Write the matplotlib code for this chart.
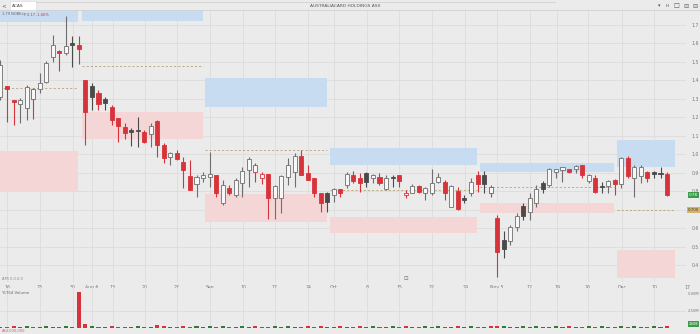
import matplotlib
matplotlib.use("Agg")
import matplotlib.pyplot as plt
import matplotlib.transforms as mtransforms
from matplotlib.patches import Rectangle

# daily OHLC, A$
opens = [1.311, 1.370, 1.295, 1.273, 1.251, 1.300, 1.354, 1.392, 1.527, 1.559,
         1.549, 1.603, 1.592, 1.403, 1.370, 1.332, 1.300, 1.257, 1.197, 1.149,
         1.132, 1.132, 1.122, 1.111, 1.181, 1.051, 0.986, 1.008, 0.959, 0.884,
         0.841, 0.873, 0.878, 0.889, 0.738, 0.819, 0.781, 0.846, 0.916, 0.905,
         0.873, 0.895, 0.765, 0.765, 0.878, 0.905, 0.992, 0.900, 0.873, 0.792,
         0.792, 0.781, 0.814, 0.835, 0.889, 0.873, 0.900, 0.873, 0.878, 0.814,
         0.876, 0.889, 0.781, 0.792, 0.830, 0.792, 0.792, 0.851, 0.851, 0.716,
         0.803, 0.765, 0.792, 0.889, 0.889, 0.792, 0.657, 0.538, 0.532, 0.608,
         0.722, 0.689, 0.738, 0.846, 0.835, 0.905, 0.916, 0.922, 0.922, 0.943,
         0.857, 0.873, 0.827, 0.830, 0.862, 0.841, 0.981, 0.873, 0.884, 0.905,
         0.903, 0.900, 0.895]
highs = [1.511, 1.370, 1.295, 1.305, 1.376, 1.359, 1.441, 1.505, 1.646, 1.565,
         1.749, 1.641, 1.641, 1.403, 1.386, 1.349, 1.311, 1.268, 1.197, 1.170,
         1.143, 1.203, 1.132, 1.170, 1.186, 1.062, 1.014, 1.024, 0.986, 0.970,
         0.889, 0.905, 1.014, 0.889, 0.862, 0.835, 0.873, 0.932, 0.986, 0.954,
         0.905, 0.895, 0.835, 0.889, 0.981, 1.008, 1.024, 0.943, 0.873, 0.792,
         0.797, 0.819, 0.814, 0.905, 0.911, 0.900, 0.905, 0.895, 0.900, 0.889,
         0.889, 0.889, 0.808, 0.841, 0.835, 0.824, 0.922, 0.900, 0.862, 0.835,
         0.824, 0.781, 0.873, 0.911, 0.911, 0.835, 0.673, 0.586, 0.619, 0.684,
         0.738, 0.792, 0.835, 0.857, 0.927, 0.922, 0.932, 0.922, 0.943, 0.943,
         0.895, 0.889, 0.851, 0.862, 0.868, 0.986, 0.992, 0.943, 0.943, 0.911,
         0.911, 0.932, 0.905]
lows = [1.295, 1.176, 1.159, 1.170, 1.186, 1.192, 1.332, 1.386, 1.500, 1.451,
        1.540, 1.473, 1.489, 1.051, 1.241, 1.241, 1.241, 1.159, 1.068, 1.084,
        1.046, 1.041, 1.062, 1.041, 0.986, 0.954, 0.943, 0.970, 0.819, 0.808,
        0.770, 0.851, 0.824, 0.770, 0.727, 0.781, 0.770, 0.770, 0.824, 0.851,
        0.841, 0.651, 0.651, 0.684, 0.835, 0.824, 0.889, 0.862, 0.770, 0.689,
        0.689, 0.743, 0.770, 0.819, 0.846, 0.797, 0.824, 0.846, 0.835, 0.808,
        0.824, 0.824, 0.765, 0.792, 0.792, 0.754, 0.781, 0.846, 0.754, 0.716,
        0.700, 0.738, 0.776, 0.797, 0.792, 0.770, 0.338, 0.441, 0.511, 0.586,
        0.646, 0.646, 0.716, 0.792, 0.824, 0.873, 0.851, 0.900, 0.900, 0.873,
        0.846, 0.792, 0.792, 0.792, 0.781, 0.819, 0.873, 0.770, 0.846, 0.851,
        0.873, 0.873, 0.776]
closes = [1.484, 1.354, 1.284, 1.295, 1.365, 1.354, 1.386, 1.495, 1.592, 1.549,
          1.586, 1.592, 1.570, 1.230, 1.311, 1.273, 1.278, 1.186, 1.154, 1.116,
          1.122, 1.127, 1.068, 1.154, 1.051, 0.981, 1.008, 0.976, 0.916, 0.808,
          0.878, 0.889, 0.895, 0.792, 0.835, 0.792, 0.862, 0.911, 0.976, 0.943,
          0.895, 0.765, 0.830, 0.884, 0.943, 0.992, 0.889, 0.862, 0.792, 0.738,
          0.743, 0.814, 0.792, 0.895, 0.857, 0.846, 0.851, 0.889, 0.846, 0.873,
          0.873, 0.857, 0.792, 0.830, 0.797, 0.819, 0.846, 0.878, 0.792, 0.830,
          0.705, 0.754, 0.851, 0.841, 0.843, 0.824, 0.473, 0.489, 0.608, 0.668,
          0.670, 0.765, 0.814, 0.814, 0.922, 0.922, 0.932, 0.905, 0.938, 0.889,
          0.889, 0.797, 0.824, 0.857, 0.841, 0.981, 0.884, 0.932, 0.932, 0.873,
          0.897, 0.897, 0.781]
# volume, millions of shares
volumes = [0.22, 0.20, 0.23, 0.19, 0.24, 0.21, 0.22, 0.25, 0.21, 0.20,
           0.23, 0.22, 5.30, 0.60, 0.24, 0.22, 0.20, 0.23, 0.21, 0.22,
           0.19, 0.24, 0.22, 0.21, 0.38, 0.23, 0.20, 0.22, 0.24, 0.21,
           0.23, 0.22, 0.35, 0.21, 0.23, 0.20, 0.22, 0.24, 0.21, 0.23,
           0.22, 0.20, 0.24, 0.21, 0.23, 0.22, 0.20, 0.23, 0.21, 0.24,
           0.22, 0.20, 0.23, 0.21, 0.22, 0.24, 0.20, 0.23, 0.21, 0.22,
           0.24, 0.20, 0.23, 0.21, 0.22, 0.24, 0.20, 0.23, 0.21, 0.22,
           0.24, 0.20, 0.23, 0.21, 0.22, 0.24, 0.29, 0.23, 0.21, 0.22,
           0.24, 0.20, 0.23, 0.21, 0.22, 0.24, 0.20, 0.23, 0.21, 0.22,
           0.24, 0.20, 0.23, 0.21, 0.22, 0.24, 0.20, 0.23, 0.21, 0.22,
           0.24, 0.20, 0.26]

# date axis (trading-day index) and labels
date_pos = [1.0, 6.0, 11.1, 14.0, 17.2, 22.1, 27.0, 32.1, 37.1, 42.0, 47.1, 51.0,
            56.1, 61.0, 66.0, 71.1, 76.0, 81.0, 85.2, 89.9, 95.1, 100.0, 105.1]
date_labels = ["16", "23", "30", "Aug 6", "13", "20", "27", "Sep", "10", "17", "24",
               "Oct", "8", "15", "22", "29", "Nov 5", "12", "19", "26", "Dec", "10", "17"]
price_ticks = [1.7, 1.6, 1.5, 1.4, 1.3, 1.2, 1.1, 1.0, 0.9, 0.8, 0.7, 0.6, 0.5, 0.4]
volume_ticks = [2.5, 5.0]

# monthly supply / demand zones
zone_start = [-0.2, 12.5, 31.3, 50.4, 73.4, 94.3]
zone_end = [11.9, 31.0, 50.0, 72.9, 93.9, 103.2]
blue_top = [1.80, 1.80, 1.414, 1.035, 0.954, 1.078]
blue_bottom = [1.716, 1.722, 1.257, 0.943, 0.905, 0.932]
pink_top = [1.019, 1.230, 0.786, 0.662, 0.738, 0.484]
pink_bottom = [0.803, 1.084, 0.635, 0.576, 0.684, 0.332]
poc_level = [1.359, 1.478, 1.024, 0.808, 0.824, 0.700]

BG = "#ebebeb"
GRID = "#dcdcdc"
RED = "#d8333b"
DARK = "#4a4a4a"
HOLLOW = "#6e6e6e"
VGREEN = "#2f7d34"

W, H = 700, 334
fig = plt.figure(figsize=(7, 3.34), dpi=100)
fig.patch.set_facecolor(BG)


def frac(x0, y0, x1, y1):
    return [x0 / W, 1 - y1 / H, (x1 - x0) / W, (y1 - y0) / H]


ax = fig.add_axes(frac(0, 10, 686, 282))
axv = fig.add_axes(frac(0, 288, 686, 328), sharex=ax)
for a in (ax, axv):
    a.set_facecolor(BG)
    for s in a.spines.values():
        s.set_visible(False)
    a.tick_params(axis="x", length=0, labelbottom=False)

ax.set_xlim(-0.07, 104.9)
ax.set_ylim(0.3108, 1.781)
axv.set_ylim(0, 5.88)

# grid
for p in date_pos:
    ax.axvline(p, color=GRID, lw=0.6, zorder=0)
    axv.axvline(p, color=GRID, lw=0.6, zorder=0)
for p in price_ticks:
    ax.axhline(p, color=GRID, lw=0.6, zorder=0)
axv.axhline(volume_ticks[0], color=GRID, lw=0.6, zorder=0)

# zones
for k in range(len(zone_start)):
    x0, x1 = zone_start[k], zone_end[k]
    ax.add_patch(Rectangle((x0, blue_bottom[k]), x1 - x0, blue_top[k] - blue_bottom[k],
                           facecolor="#c7dcf1", edgecolor="none", zorder=1))
    ax.add_patch(Rectangle((x0, pink_bottom[k]), x1 - x0, pink_top[k] - pink_bottom[k],
                           facecolor="#f5d6d7", edgecolor="none", zorder=1))
    ax.plot([x0, x1], [poc_level[k]] * 2, color="#b3a272", lw=0.6,
            dashes=(2.5, 2.5), zorder=1.5)

# candles
bw = 0.62
for i in range(len(opens)):
    o, h, l, c = opens[i], highs[i], lows[i], closes[i]
    prev = closes[i - 1] if i > 0 else o
    up = c >= o
    if c < prev:
        edge = RED
        face = "#f7f7f7" if up else RED
    else:
        edge = HOLLOW if up else DARK
        face = "#f7f7f7" if up else DARK
    ax.vlines(i, l, h, color=edge, lw=0.8, zorder=2)
    ax.add_patch(Rectangle((i - bw / 2, min(o, c)), bw, max(abs(c - o), 0.004),
                           facecolor=face, edgecolor=edge, lw=0.6, zorder=3))
    axv.bar(i, volumes[i], width=bw, color=RED if c < prev else VGREEN, zorder=2)

# price axis on the right (0.7 sits under the level marker)
ax.yaxis.tick_right()
ax.set_yticks(price_ticks)
ax.set_yticklabels(["" if abs(p - poc_level[-1]) < 0.02 else f"{p:.1f}"
                    for p in price_ticks])
ax.tick_params(axis="y", length=0, pad=4, labelsize=3.3, labelcolor="#777777")
axv.yaxis.tick_right()
axv.set_yticks(volume_ticks)
axv.set_yticklabels([f"{v:.2f}M" for v in volume_ticks])
axv.tick_params(axis="y", length=0, pad=1.5, labelsize=2.7, labelcolor="#777777")

trans = mtransforms.blended_transform_factory(ax.transAxes, ax.transData)
ax.text(1.004, closes[-1], f"{closes[-1]:.2f}", transform=trans, fontsize=3.0,
        color="white", va="center", ha="left",
        bbox=dict(boxstyle="square,pad=0.25", fc="#3d9a4b", ec="none"))
ax.text(1.003, poc_level[-1], f"{poc_level[-1]:.3f}", transform=trans, fontsize=2.8,
        color="#3a3a3a", va="center", ha="left",
        bbox=dict(boxstyle="square,pad=0.2", fc="#d4b46a", ec="none"))
vtrans = mtransforms.blended_transform_factory(axv.transAxes, axv.transData)
axv.text(1.004, volumes[-1], f"{volumes[-1] * 1000:.0f}K", transform=vtrans,
         fontsize=2.8, color="white", va="bottom", ha="left",
         bbox=dict(boxstyle="square,pad=0.2", fc="#3d9a4b", ec="none"))

# date labels between the panels
for p, lab in zip(date_pos, date_labels):
    ax.text(p, -0.012, lab, transform=mtransforms.blended_transform_factory(
        ax.transData, ax.transAxes), fontsize=3.3, color="#777777",
        ha="center", va="top", clip_on=False)

# header and small labels
def ftext(x, y, s, **kw):
    fig.text(x / W, 1 - y / H, s, va="center", **kw)


fig.add_artist(plt.Line2D([0, 1], [1 - 10 / H] * 2, color="#d0d0d0", lw=0.6))
fig.add_artist(plt.Line2D([36 / W, 555 / W], [1 - 2 / H] * 2, color="#d0d0d0", lw=0.6))
fig.add_artist(Rectangle((10 / W, 1 - 10.5 / H), 26 / W, 9.5 / H, transform=fig.transFigure,
                         facecolor="white", edgecolor="#d8d8d8", lw=0.4))
ftext(4, 6, "<", fontsize=4, color="#555555", ha="center")
ftext(12, 6, "ACAS", fontsize=3.2, color="#444444", ha="left")
ftext(345, 6, "AUSTRALIACARD HOLDINGS ASX", fontsize=3.2, color="#555555", ha="center")
ftext(659, 6, "▾", fontsize=3.5, color="#555555", ha="center")
ftext(667, 6, "H", fontsize=3.2, color="#555555", ha="center")
ftext(676, 6, "□", fontsize=4.5, color="#555555", ha="center")
ftext(686, 6, "⊟", fontsize=4.5, color="#666666", ha="center")
ftext(695, 6, "⊟", fontsize=4.5, color="#666666", ha="center")
ftext(2, 14.5, "1.79 NOBExp", fontsize=2.6, color="#666666", ha="left")
ftext(27, 14.5, "0.17 -1.66%", fontsize=2.6, color=RED, ha="left")
ftext(2, 279, "ATR 0.0.0.0", fontsize=2.6, color="#888888", ha="left")
ftext(406, 279, "⊡", fontsize=4, color="#777777", ha="center")
ftext(2, 293, "YLT64 Volume", fontsize=2.8, color="#666666", ha="left")
ftext(2, 331, "A$4,000,000", fontsize=2.6, color="#d06070", ha="left")

fig.savefig("out.png", dpi=100, facecolor=BG)
